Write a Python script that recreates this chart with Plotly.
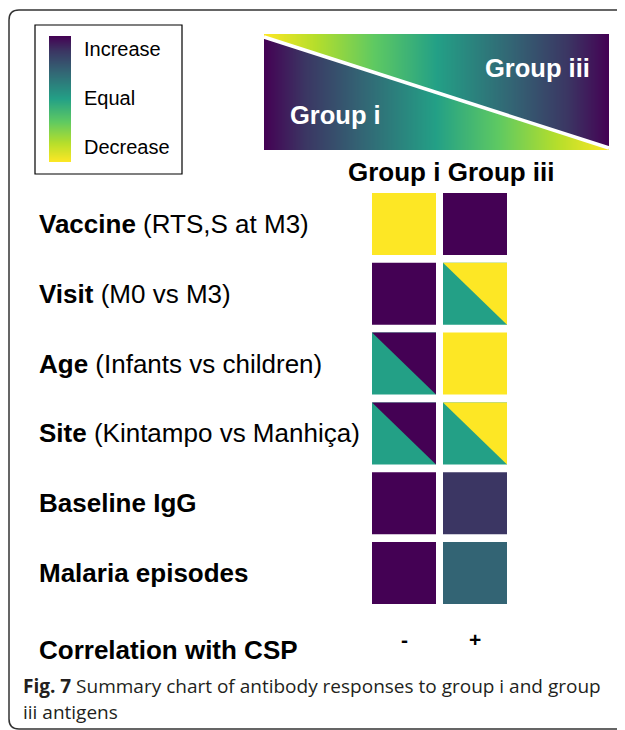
import plotly.graph_objects as go
from plotly.colors import sample_colorscale

# ---------------- data ----------------
row_names = ["Vaccine", "Visit", "Age", "Site", "Baseline IgG", "Malaria episodes"]
row_details = ["(RTS,S at M3)", "(M0 vs M3)", "(Infants vs children)", "(Kintampo vs Manhiça)", "", ""]
groups = ["Group i", "Group iii"]
# score: 1 = Increase, 0 = Equal, -1 = Decrease ; (lower-left, upper-right) triangles
group_i_lower = [-1, 1, 0, 0, 1, 1]
group_i_upper = [-1, 1, 1, 1, 1, 1]
group_iii_lower = [1, 0, -1, 0, 0.76, 0.44]
group_iii_upper = [1, -1, -1, -1, 0.76, 0.44]
csp_correlation = ["-", "+"]
legend_labels = ["Increase", "Equal", "Decrease"]
legend_scores = [1, 0, -1]

# colour scale: 0 -> Decrease (yellow), 1 -> Increase (purple)
cscale = [
    [0.0, "#fde725"],
    [0.15, "#b5de2b"],
    [0.32, "#5ec962"],
    [0.5, "#23a086"],
    [0.72, "#336474"],
    [0.88, "#3b3663"],
    [1.0, "#440154"],
]


def col_of(score):
    return sample_colorscale(cscale, [(score + 1) / 2])[0]


fig = go.Figure()

# ---------------- header gradient (two triangles) ----------------
hx0, hx1, hy0, hy1 = 264, 609, 34, 150
nx, ny = hx1 - hx0, hy1 - hy0
xs = [hx0 + i + 0.5 for i in range(nx)]
ys = [hy0 + j + 0.5 for j in range(ny)]
z = []
for yv in ys:
    rowz = []
    for xv in xs:
        t = (xv - hx0) / nx
        ydiag = 37 + (148 - 37) * t
        if yv > ydiag:
            rowz.append(1 - 2 * t)
        else:
            rowz.append(-1 + 2 * t)
    z.append(rowz)
fig.add_trace(go.Heatmap(x=xs, y=ys, z=z, colorscale=cscale, zmin=-1, zmax=1,
                         showscale=False, hoverinfo="skip"))

# ---------------- legend gradient ----------------
lx0, lx1, ly0, ly1 = 49, 71, 36, 162
lys = [ly0 + j + 0.5 for j in range(ly1 - ly0)]
lz = [[1 - 2 * (yv - ly0) / (ly1 - ly0)] * 2 for yv in lys]
fig.add_trace(go.Heatmap(x=[lx0 + 5.5, lx1 - 5.5], y=lys, z=lz, colorscale=cscale, zmin=-1, zmax=1,
                         showscale=False, hoverinfo="skip", xgap=0))

# ---------------- cells ----------------
cx0, cpitch, cw = 372, 71, 64
ry0, rpitch, rh = 193, 69.8, 62
lowers = [group_i_lower, group_iii_lower]
uppers = [group_i_upper, group_iii_upper]
for c in range(len(groups)):
    for r in range(len(row_names)):
        x0 = cx0 + c * cpitch
        x1 = x0 + cw
        y0 = ry0 + r * rpitch
        y1 = y0 + rh
        lo, up = lowers[c][r], uppers[c][r]
        fig.add_trace(go.Scatter(x=[x0, x1, x1, x0, x0], y=[y0, y0, y1, y1, y0], mode="lines",
                                 fill="toself", fillcolor=col_of(lo), line=dict(width=0),
                                 hoverinfo="skip", showlegend=False))
        if up != lo:
            fig.add_trace(go.Scatter(x=[x0, x1, x1, x0], y=[y0, y0, y1, y0], mode="lines",
                                     fill="toself", fillcolor=col_of(up), line=dict(width=0),
                                     hoverinfo="skip", showlegend=False))

shapes = []
# white diagonal in header
shapes.append(dict(type="line", x0=hx0, y0=37, x1=hx1, y1=148, line=dict(color="white", width=3.5)))
# legend box
shapes.append(dict(type="rect", x0=35, y0=25, x1=182, y1=174, line=dict(color="black", width=1.2)))
# outer frame
shapes.append(dict(type="path", path="M 640,10 L 19,10 Q 9,10 9,20 L 9,719 Q 9,729 19,729 L 640,729",
                   line=dict(color="#333333", width=1.5)))

ann = []
lab_font = dict(family="Liberation Sans, Arial", size=20, color="black")
for lab, sc in zip(legend_labels, legend_scores):
    ann.append(dict(x=82, y=98 - sc * 49, text=lab, xanchor="left", yanchor="middle", showarrow=False, font=lab_font))

ann.append(dict(x=288, y=115, text="<b>Group i</b>", xanchor="left", yanchor="middle", showarrow=False,
                font=dict(family="Liberation Sans, Arial", size=25.5, color="white")))
ann.append(dict(x=483, y=68, text="<b>Group iii</b>", xanchor="left", yanchor="middle", showarrow=False,
                font=dict(family="Liberation Sans, Arial", size=25.5, color="white")))
ann.append(dict(x=346, y=172, text="<b>" + " ".join(groups) + "</b>", xanchor="left", yanchor="middle",
                showarrow=False, font=dict(family="Liberation Sans, Arial", size=26, color="black")))

row_font = dict(family="Liberation Sans, Arial", size=26, color="black")
for r, (nm, dt) in enumerate(zip(row_names, row_details)):
    txt = "<b>" + nm + "</b>" + ((" " + dt) if dt else "")
    ann.append(dict(x=37, y=ry0 + r * rpitch + rh / 2, text=txt, xanchor="left", yanchor="middle",
                    showarrow=False, font=row_font))
ann.append(dict(x=37, y=650, text="<b>Correlation with CSP</b>", xanchor="left", yanchor="middle",
                showarrow=False, font=row_font))
for c, s in enumerate(csp_correlation):
    ann.append(dict(x=cx0 + c * cpitch + cw / 2, y=639, text="<b>" + s + "</b>", xanchor="center",
                    yanchor="middle", showarrow=False, font=dict(family="Liberation Sans, Arial", size=21, color="black")))

cap_font = dict(family="Open Sans", size=19, color="#231f20")
ann.append(dict(x=21, y=686, text="<b>Fig. 7</b> Summary chart of antibody responses to group i and group",
                xanchor="left", yanchor="middle", showarrow=False, font=cap_font))
ann.append(dict(x=21, y=712, text="iii antigens", xanchor="left", yanchor="middle", showarrow=False, font=cap_font))

# page has an 8px body margin: the plot starts at page pixel (8, 8)
fig.update_layout(
    width=617, height=722, autosize=False,
    margin=dict(l=0, r=0, t=0, b=0),
    paper_bgcolor="white", plot_bgcolor="white",
    xaxis=dict(range=[8, 625], visible=False, fixedrange=True),
    yaxis=dict(range=[730, 8], visible=False, fixedrange=True),
    shapes=shapes, annotations=ann, showlegend=False,
)
fig.write_html("out.html")
